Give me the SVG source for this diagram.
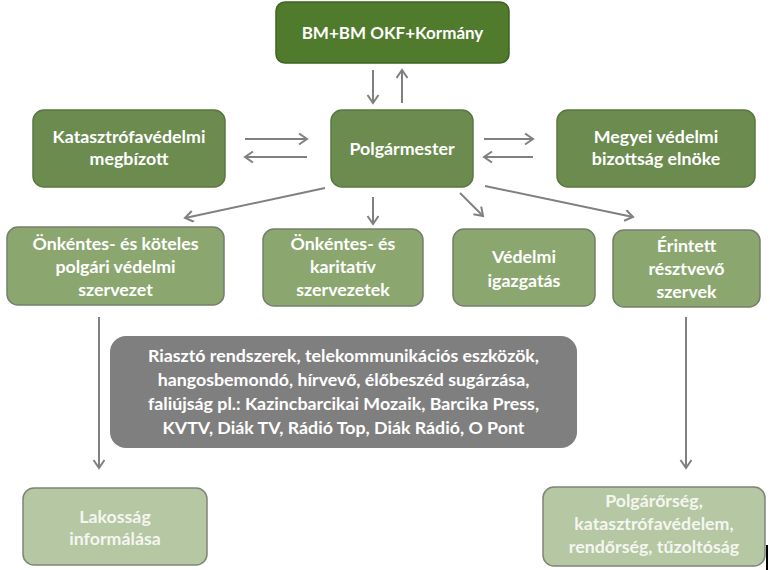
<svg xmlns="http://www.w3.org/2000/svg" width="770" height="570" viewBox="0 0 770 570">
<style>
.t{font-family:Lato,"Open Sans","Liberation Sans",sans-serif;font-weight:bold;font-size:17.8px;fill:#ffffff;text-anchor:middle}
.tk{font-size:17px}
.t2{fill:#f4f6f0}
.n1{fill:#507a2c;stroke:#3f6322;stroke-width:1.5}
.n2{fill:#6b8b4f;stroke:#5a7742;stroke-width:1.5}
.n3{fill:#8ba76f;stroke:#75806c;stroke-width:1.5}
.n4{fill:#b5c7a3;stroke:#7d8577;stroke-width:1.5}
.g{fill:#7f7f7f}
.c{stroke:#808080;stroke-width:2;fill:none;marker-end:url(#ah)}
</style>
<defs>
<marker id="ah" markerUnits="userSpaceOnUse" markerWidth="12" markerHeight="14" refX="9" refY="6" orient="auto">
<path d="M1,0.5 L9,6 L1,11.5" fill="none" stroke="#808080" stroke-width="2"/>
</marker>
</defs>
<rect width="770" height="570" fill="#ffffff"/>
<g id="connectors">
<line class="c" x1="373" y1="70" x2="373" y2="103"/>
<line class="c" x1="402" y1="103" x2="402" y2="70"/>
<line class="c" x1="245" y1="139" x2="307" y2="139"/>
<line class="c" x1="307" y1="157" x2="245" y2="157"/>
<line class="c" x1="484" y1="139" x2="533" y2="139"/>
<line class="c" x1="533" y1="157" x2="484" y2="157"/>
<line class="c" x1="325" y1="188" x2="185" y2="218"/>
<line class="c" x1="373" y1="197" x2="373" y2="224"/>
<line class="c" x1="460" y1="193" x2="483" y2="216"/>
<line class="c" x1="485" y1="186" x2="633" y2="217"/>
<line class="c" x1="99" y1="317" x2="99" y2="468"/>
<line class="c" x1="686" y1="317" x2="686" y2="468"/>
</g>
<g id="kormany">
<rect class="n1" x="276" y="2" width="233" height="61" rx="9"/>
<text class="t tk" x="392.5" y="38.5">BM+BM OKF+Kormány</text>
</g>
<g id="katasztrofavedelmi">
<rect class="n2" x="33" y="110" width="192" height="77" rx="11"/>
<text class="t" x="129" y="143">Katasztrófavédelmi</text>
<text class="t" x="129" y="165">megbízott</text>
</g>
<g id="polgarmester">
<rect class="n2" x="331" y="110" width="142" height="77" rx="11"/>
<text class="t" x="402" y="155">Polgármester</text>
</g>
<g id="megyei">
<rect class="n2" x="557" y="110" width="198" height="77" rx="11"/>
<text class="t" x="656" y="143">Megyei védelmi</text>
<text class="t" x="656" y="165">bizottság elnöke</text>
</g>
<g id="onkentes-koteles">
<rect class="n3" x="7" y="227" width="217" height="78" rx="11"/>
<text class="t" x="115.5" y="250">Önkéntes- és köteles</text>
<text class="t" x="115.5" y="273">polgári védelmi</text>
<text class="t" x="115.5" y="296">szervezet</text>
</g>
<g id="onkentes-karitativ">
<rect class="n3" x="263" y="229" width="160" height="77" rx="11"/>
<text class="t" x="343" y="250">Önkéntes- és</text>
<text class="t" x="343" y="273">karitatív</text>
<text class="t" x="343" y="296">szervezetek</text>
</g>
<g id="vedelmi-igazgatas">
<rect class="n3" x="453" y="229" width="142" height="77" rx="11"/>
<text class="t" x="524" y="263">Védelmi</text>
<text class="t" x="524" y="287">igazgatás</text>
</g>
<g id="erintett">
<rect class="n3" x="613" y="230" width="147" height="77" rx="11"/>
<text class="t" x="686.5" y="252">Érintett</text>
<text class="t" x="686.5" y="275">résztvevő</text>
<text class="t" x="686.5" y="298">szervek</text>
</g>
<g id="eszkozok">
<rect class="g" x="110" y="336" width="467" height="112" rx="16"/>
<text class="t" x="343.5" y="362">Riasztó rendszerek, telekommunikációs eszközök,</text>
<text class="t" x="343.5" y="386">hangosbemondó, hírvevő, élőbeszéd sugárzása,</text>
<text class="t" x="343.5" y="410">faliújság pl.: Kazincbarcikai Mozaik, Barcika Press,</text>
<text class="t" x="343.5" y="434">KVTV, Diák TV, Rádió Top, Diák Rádió, O Pont</text>
</g>
<g id="lakossag">
<rect class="n4" x="23" y="488" width="184" height="77" rx="11"/>
<text class="t t2" x="115" y="523">Lakosság</text>
<text class="t t2" x="115" y="545">informálása</text>
</g>
<g id="polgarorseg">
<rect class="n4" x="543" y="487" width="222" height="79" rx="11"/>
<text class="t t2" x="654" y="507">Polgárőrség,</text>
<text class="t t2" x="654" y="530">katasztrófavédelem,</text>
<text class="t t2" x="654" y="553">rendőrség, tűzoltóság</text>
</g>
<rect x="766" y="545" width="2" height="25" fill="#000000"/>
</svg>
